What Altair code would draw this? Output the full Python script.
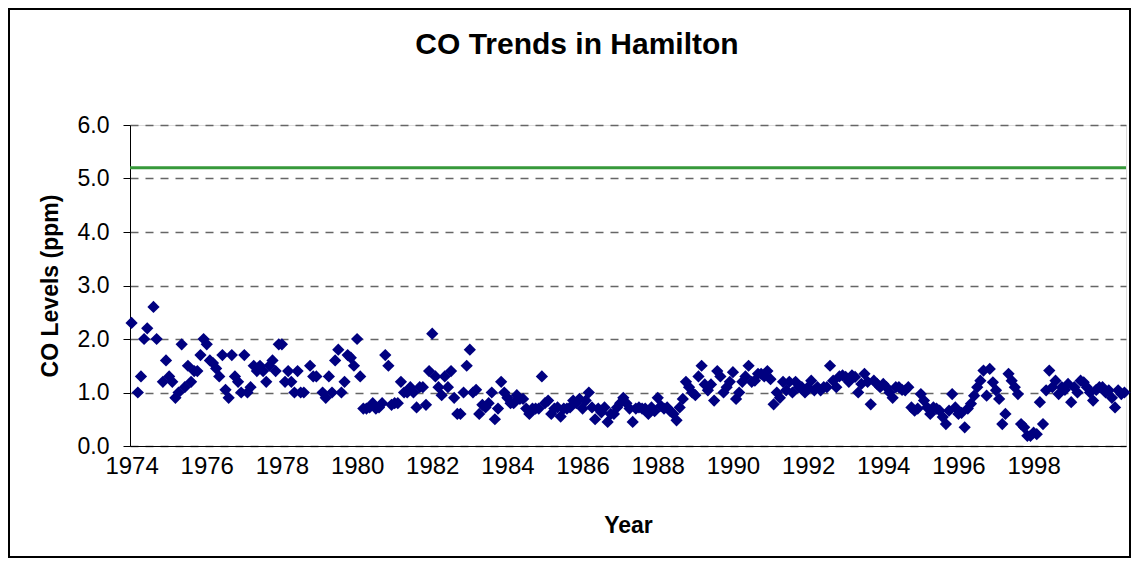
import altair as alt
import pandas as pd

# ---- text ----
title_text = "CO Trends in Hamilton"
y_title = "CO Levels (ppm)"
x_title = "Year"

# ---- axis ticks ----
start_year = 1974
tick_years = [1974, 1976, 1978, 1980, 1982, 1984, 1986, 1988, 1990, 1992, 1994, 1996, 1998]
y_ticks = [0, 1, 2, 3, 4, 5, 6]

# ---- standard (green line) ----
standard_ppm = [5.2]

# ---- monthly CO levels (ppm) ----
co_1974 = [2.3, None, 1.0, 1.3, 2.0, 2.2, None, 2.6, 2.0, None, 1.2, 1.6]
co_1975 = [1.3, 1.2, 0.9, 1.0, 1.9, 1.1, 1.5, 1.2, 1.4, 1.4, 1.7, 2.0]
co_1976 = [1.9, 1.6, 1.55, 1.45, 1.3, 1.7, 1.05, 0.9, 1.7, 1.3, 1.2, 1.0]
co_1977 = [1.7, 1.0, 1.1, 1.5, 1.4, 1.5, 1.4, 1.2, 1.5, 1.6, 1.4, 1.9]
co_1978 = [1.9, 1.2, 1.4, 1.2, 1.0, 1.4, 1.0, 1.0, None, 1.5, 1.3, 1.3]
co_1979 = [None, 1.0, 0.9, 1.3, 1.0, 1.6, 1.8, 1.0, 1.2, 1.7, 1.65, 1.5]
co_1980 = [2.0, 1.3, 0.7, 0.7, 0.72, 0.8, 0.7, 0.72, 0.8, 1.7, 1.5, 0.77]
co_1981 = [0.8, 0.8, 1.2, 1.0, 1.0, 1.1, 1.0, 0.72, 1.1, 1.1, 0.77, 1.4]
co_1982 = [2.1, 1.3, 1.1, 0.95, 1.3, 1.1, 1.4, 0.9, 0.6, 0.6, 1.0, 1.5]
co_1983 = [1.8, 1.0, 1.05, 0.6, 0.77, 0.72, 0.8, 1.0, 0.5, 0.7, 1.2, 1.0]
co_1984 = [0.9, 0.8, 0.8, 0.95, 0.88, 0.88, 0.7, 0.6, 0.7, 0.7, 0.7, 1.3]
co_1985 = [0.8, 0.85, 0.6, 0.7, 0.72, 0.55, 0.7, 0.7, 0.72, 0.85, 0.8, 0.88]
co_1986 = [0.7, 0.85, 1.0, 0.72, 0.5, 0.7, 0.63, 0.72, 0.45, 0.6, 0.6, 0.72]
co_1987 = [0.8, 0.9, 0.8, 0.7, 0.45, 0.7, 0.72, 0.7, 0.7, 0.6, 0.72, 0.65]
co_1988 = [0.9, 0.75, 0.7, 0.72, 0.65, 0.6, 0.48, 0.72, 0.88, 1.2, 1.1, 1.0]
co_1989 = [0.95, 1.3, 1.5, 1.15, 1.04, 1.15, 0.85, 1.4, 1.3, 1.0, 1.1, 1.2]
co_1990 = [1.38, 0.88, 1.0, 1.2, 1.3, 1.5, 1.2, 1.22, 1.35, 1.35, 1.3, 1.4]
co_1991 = [1.25, 0.78, 1.0, 0.9, 1.2, 1.04, 1.2, 1.0, 1.2, 1.1, 1.1, 1.0]
co_1992 = [1.1, 1.22, 1.04, 1.1, 1.04, 1.1, 1.1, 1.5, 1.22, 1.1, 1.3, 1.32]
co_1993 = [1.29, 1.2, 1.32, 1.29, 1.0, 1.16, 1.35, 1.2, 0.78, 1.22, 1.16, 1.1]
co_1994 = [1.16, 1.1, 1.0, 0.9, 1.1, 1.1, 1.05, 1.04, 1.1, 0.72, 0.66, 0.7]
co_1995 = [0.97, 0.85, 0.72, 0.6, 0.72, 0.7, 0.66, 0.54, 0.41, 0.66, 0.97, 0.72]
co_1996 = [0.6, 0.62, 0.35, 0.7, 0.79, 0.94, 1.1, 1.22, 1.41, 0.94, 1.44, 1.19]
co_1997 = [1.04, 0.88, 0.41, 0.6, 1.35, 1.22, 1.1, 0.97, 0.41, 0.35, 0.19, 0.19]
co_1998 = [0.25, 0.22, 0.82, 0.41, 1.04, 1.41, 1.1, 1.22, 0.97, 1.1, 1.05, 1.16]
co_1999 = [0.82, 1.1, 1.0, 1.22, 1.19, 1.1, 1.0, 0.85, 1.05, 1.1, 1.1, 1.0]
co_2000 = [1.04, 0.9, 0.72, 1.04, 0.97, 1.0]

monthly = (co_1974 + co_1975 + co_1976 + co_1977 + co_1978 + co_1979 + co_1980
           + co_1981 + co_1982 + co_1983 + co_1984 + co_1985 + co_1986 + co_1987
           + co_1988 + co_1989 + co_1990 + co_1991 + co_1992 + co_1993 + co_1994
           + co_1995 + co_1996 + co_1997 + co_1998 + co_1999 + co_2000)

n_months = len(monthly)
df = pd.DataFrame({
    "year": [start_year + i / 12 for i in range(n_months)],
    "co": monthly,
}).dropna()

x_domain = [start_year - 0.5 / 12, start_year + (n_months - 0.5) / 12]

FONT = "Liberation Sans"

x_enc = alt.X(
    "year:Q",
    scale=alt.Scale(domain=x_domain, nice=False, zero=False),
    axis=alt.Axis(
        values=tick_years, format="d", grid=False, ticks=False, tickSize=0,
        labelFlush=False, labelOverlap=False, labelPadding=8,
        labelFont=FONT, labelFontSize=24, labelColor="black",
        domainColor="black", domainWidth=1,
        title=x_title, titleFont=FONT, titleFontSize=23, titleFontWeight="bold",
        titleColor="black", titleY=79, titleBaseline="middle",
    ),
)
y_enc = alt.Y(
    "co:Q",
    scale=alt.Scale(domain=[0, 6], nice=False, zero=True),
    axis=alt.Axis(
        values=y_ticks, format=".1f", grid=True, gridDash=[8, 7],
        gridColor="#666666", gridWidth=1.5,
        tickSize=7, tickColor="black", labelPadding=14,
        labelFont=FONT, labelFontSize=23, labelColor="black",
        domainColor="black", domainWidth=1,
        title=y_title, titleFont=FONT, titleFontSize=23, titleFontWeight="bold",
        titleColor="black", titleX=-80, titleY=160.5, titleAngle=270,
        titleAlign="center", titleBaseline="middle",
    ),
)

frame = alt.Chart(pd.DataFrame({"k": [0]})).mark_rect(
    fillOpacity=0, stroke="black", strokeWidth=2
).encode(
    x=alt.value(-121), x2=alt.value(1000), y=alt.value(-116), y2=alt.value(432)
)

limit = alt.Chart(pd.DataFrame({"co": standard_ppm})).mark_rule(
    color="#36993a", strokeWidth=3
).encode(y=alt.Y("co:Q"))

points = alt.Chart(df).mark_point(
    shape="diamond", filled=True, size=150, color="#000080", opacity=1
).encode(x=x_enc, y=y_enc)

chart = alt.layer(frame, points, limit).properties(
    width=996,
    height=321,
    padding={"left": 122, "top": 117, "right": 5, "bottom": 112},
    autosize=alt.AutoSizeParams(type="none"),
    title=alt.TitleParams(
        text=title_text, font=FONT, fontSize=30, fontWeight="bold", color="black",
        anchor="middle", frame="group", baseline="alphabetic", offset=0, dx=-51, dy=76,
    ),
).configure_view(
    stroke="#808080", strokeWidth=1
).configure(background="white")

chart.save("out.html", embed_options={"renderer": "svg", "actions": False})
